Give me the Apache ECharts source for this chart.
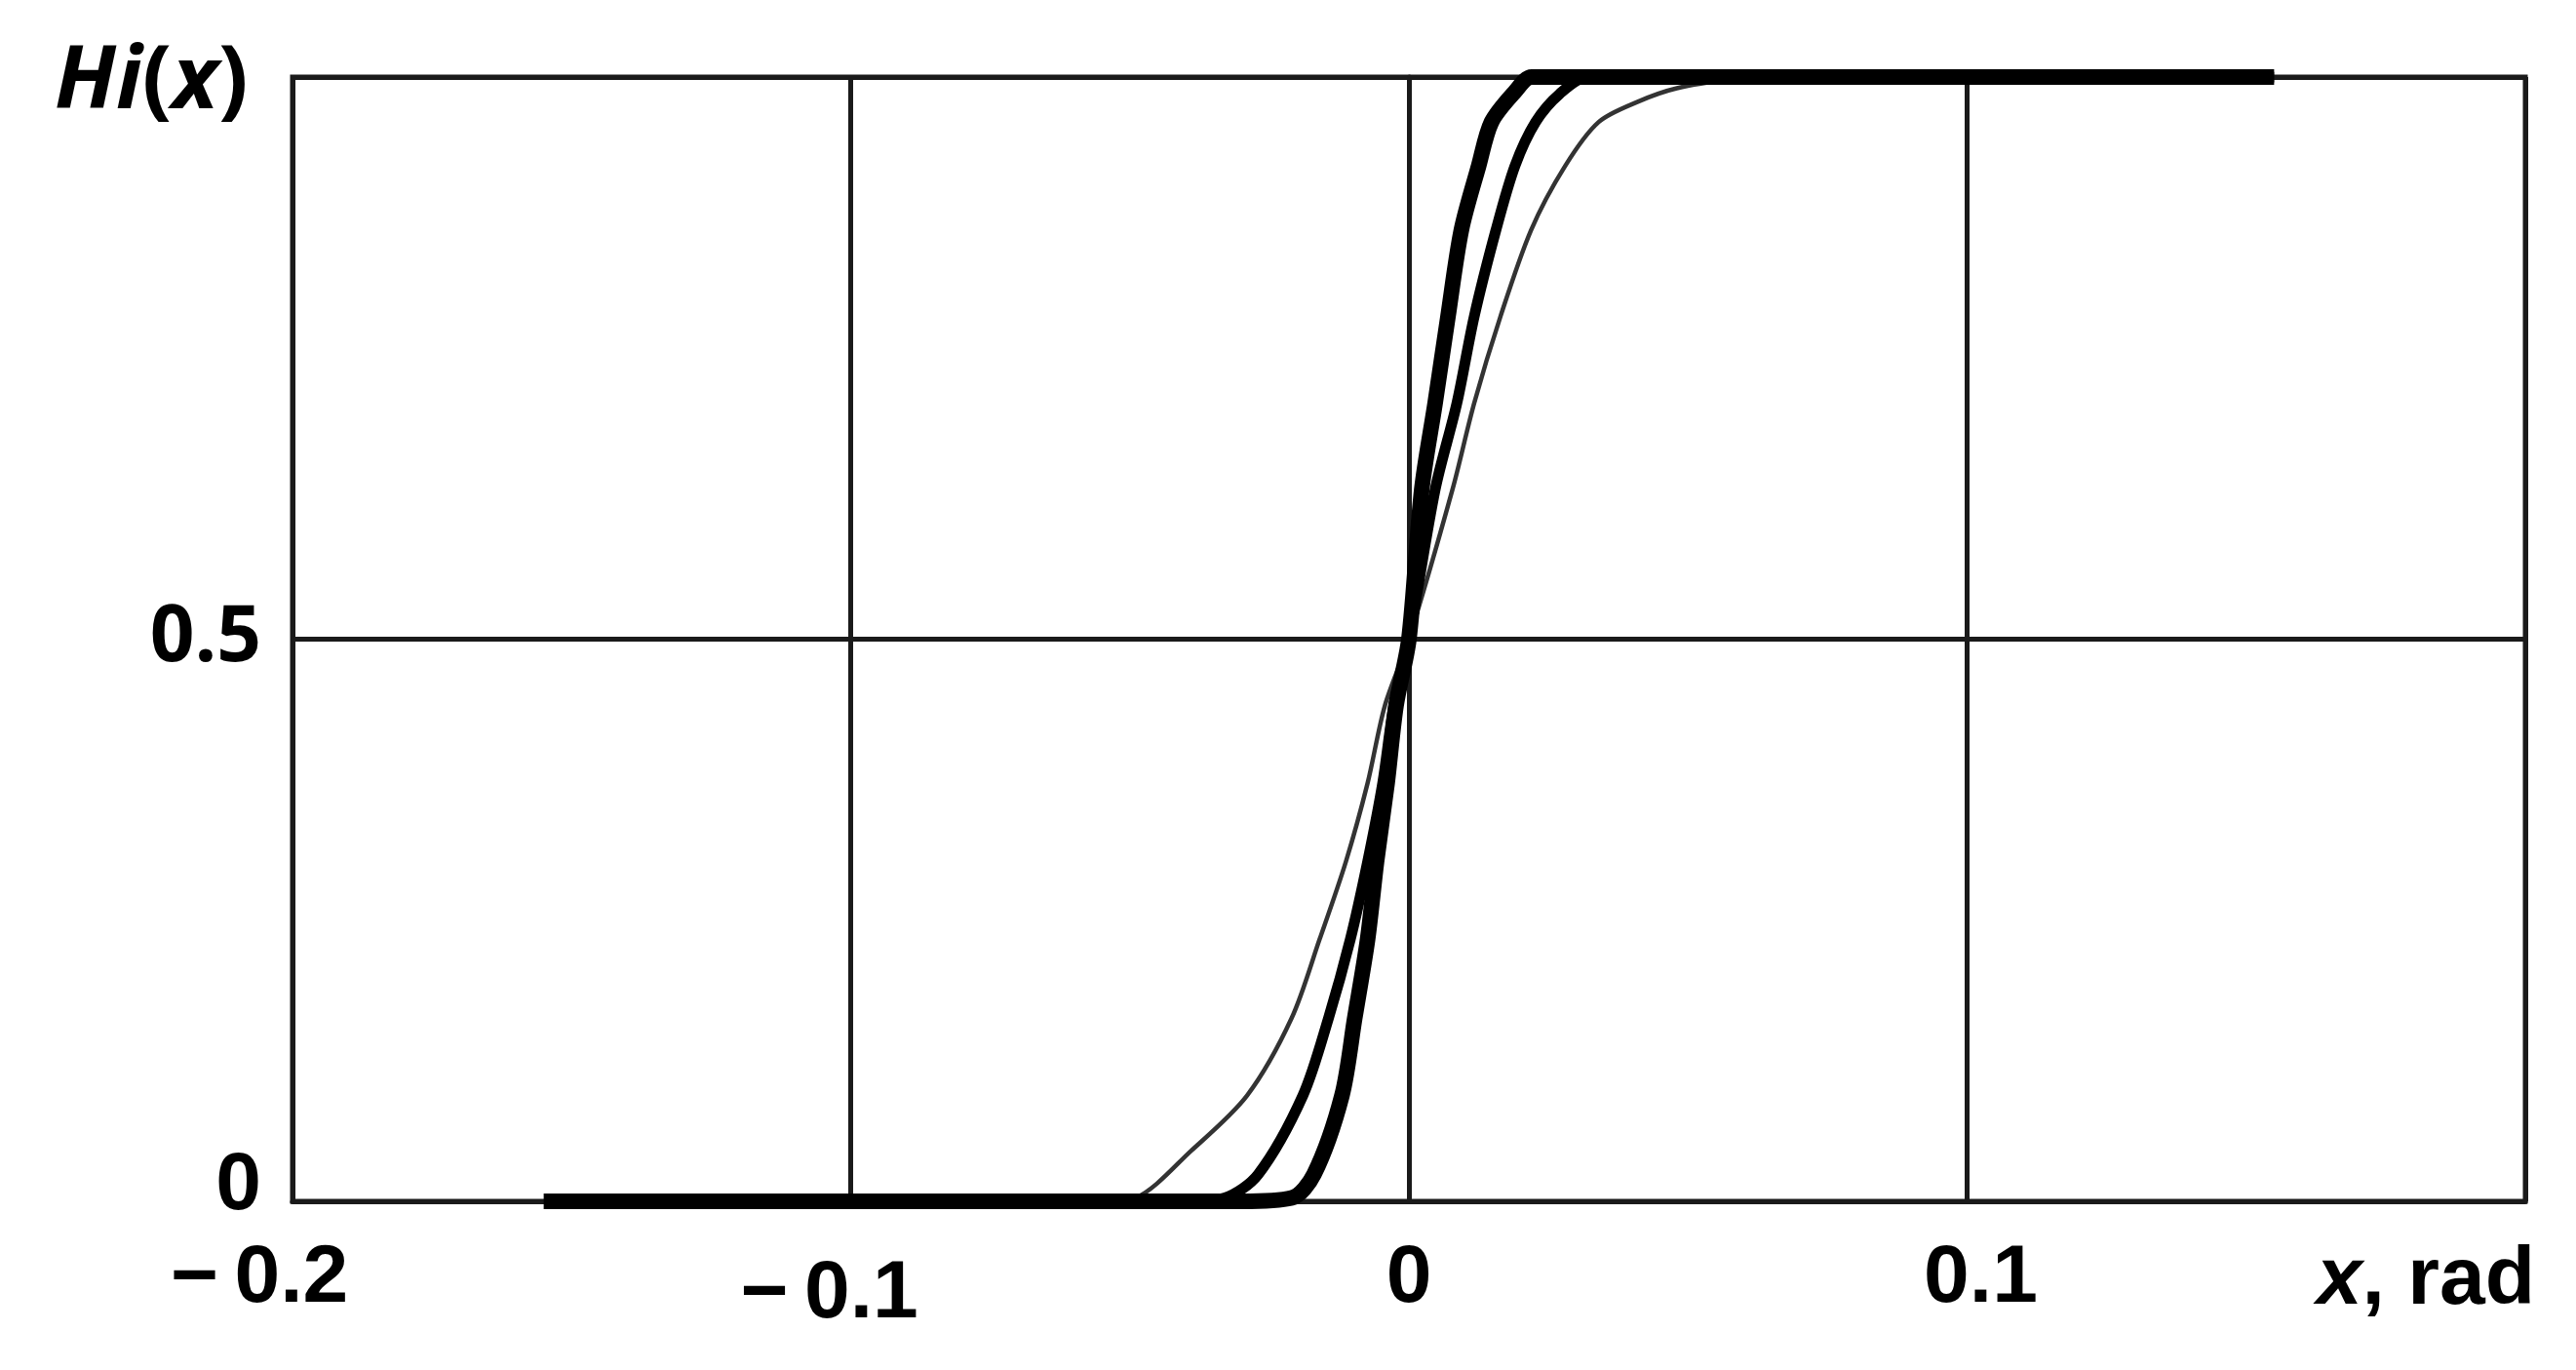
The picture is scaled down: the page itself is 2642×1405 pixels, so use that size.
<!DOCTYPE html>
<html>
<head>
<meta charset="utf-8">
<title>Hi(x)</title>
<script src="https://cdn.jsdelivr.net/npm/echarts@6/dist/echarts.min.js"></script>
<style>
  html, body { margin: 0; padding: 0; background: #fff; }
  #chart { width: 2642px; height: 1405px; }
</style>
</head>
<body>
<div id="chart"></div>
<script>
// x axis: -0.2 .. 0.2 rad, y axis: 0 .. 1
const xTicks = [-0.2, -0.1, 0, 0.1, 0.2]
const yTicks = [0, 0.5, 1]

// thick curve (steepest)
const thickX = [-0.155, -0.09, -0.03, -0.021, -0.017, -0.012, -0.0097, -0.0074, -0.0058, -0.0039, -0.0023, 0, 0.0023, 0.0047, 0.007, 0.0094, 0.0125, 0.0148, 0.019, 0.022, 0.06, 0.155]
const thickY = [0, 0, 0, 0.003, 0.024, 0.094, 0.163, 0.233, 0.302, 0.372, 0.441, 0.5, 0.633, 0.71, 0.787, 0.864, 0.921, 0.96, 0.987, 1, 1, 1]

// medium curve
const mediumX = [-0.093, -0.04, -0.033, -0.027, -0.019, -0.0144, -0.0105, -0.0074, -0.0047, -0.0027, 0, 0.0047, 0.0086, 0.0117, 0.0156, 0.019, 0.0227, 0.027, 0.032, 0.06, 0.155]
const mediumY = [0, 0, 0.003, 0.024, 0.094, 0.163, 0.233, 0.302, 0.372, 0.441, 0.5, 0.633, 0.71, 0.787, 0.864, 0.921, 0.96, 0.985, 1, 1, 1]

// thin curve (widest transition)
const thinX = [-0.093, -0.055, -0.049, -0.039, -0.029, -0.021, -0.016, -0.0113, -0.0074, -0.0043, 0, 0.0078, 0.0117, 0.0164, 0.0219, 0.028, 0.034, 0.041, 0.048, 0.058, 0.065, 0.155]
const thinY = [0, 0, 0.003, 0.045, 0.094, 0.163, 0.233, 0.302, 0.372, 0.441, 0.5, 0.633, 0.71, 0.787, 0.864, 0.921, 0.96, 0.978, 0.99, 0.998, 1, 1]

const toPairs = (xs, ys) => xs.map((x, i) => [x, ys[i]])

// tick labels sit a bit off their gridlines in the original scan
const formatX = (v) => {
  if (Math.abs(v) < 1e-9) return '0'
  if (v > 0.15) return ''
  if (v < -0.15) return '{a|\u2212\u2009' + Math.abs(v).toFixed(1) + '}'
  if (v < 0) return '{b|\u2212\u2009' + Math.abs(v).toFixed(1) + '}'
  return '{c|' + v.toFixed(1) + '}'
}

const formatY = (v) => {
  if (v === 0) return '{z|0}'
  if (v === 0.5) return '0.5'
  return ''
}

const chart = echarts.init(document.getElementById('chart'))

const lineColor = '#1a1a1a'
const gridWidth = 5
const tickFont = '"Liberation Sans", Arial, sans-serif'
const labelFont = '"Open Sans", "Noto Sans", sans-serif'
const tickStyle = { fontFamily: tickFont, fontWeight: 'bold', fontSize: 84, color: '#000' }

const makeSeries = (name, data, width, color) => ({
  name: name,
  type: 'line',
  data: data,
  showSymbol: false,
  smooth: 0.3,
  lineStyle: { color: color, width: width, cap: 'butt', join: 'round' },
  z: 3
})

const option = {
  animation: false,
  backgroundColor: '#ffffff',
  title: {
    text: '{i|Hi}({i|x})',
    left: 56,
    top: 40,
    padding: 0,
    textStyle: {
      fontFamily: labelFont,
      fontWeight: 'bold',
      fontSize: 90,
      color: '#000',
      rich: {
        i: { fontFamily: labelFont, fontWeight: 'bold', fontStyle: 'italic', fontSize: 90, color: '#000' }
      }
    }
  },
  grid: {
    left: 300,
    right: 52,
    top: 79,
    bottom: 173,
    show: true,
    borderColor: lineColor,
    borderWidth: gridWidth,
    backgroundColor: 'transparent'
  },
  xAxis: {
    type: 'value',
    min: xTicks[0],
    max: xTicks[xTicks.length - 1],
    interval: 0.1,
    name: '{i|x}, rad',
    nameLocation: 'end',
    nameGap: 10,
    nameTextStyle: {
      align: 'right',
      verticalAlign: 'top',
      padding: [40, 0, 0, 0],
      fontFamily: tickFont,
      fontWeight: 'bold',
      fontSize: 84,
      color: '#000',
      rich: {
        i: { fontFamily: tickFont, fontWeight: 'bold', fontStyle: 'italic', fontSize: 84, color: '#000' }
      }
    },
    axisLine: { show: true, lineStyle: { color: lineColor, width: gridWidth } },
    axisTick: { show: false },
    axisLabel: {
      formatter: formatX,
      margin: 38,
      ...tickStyle,
      rich: {
        a: { ...tickStyle, padding: [0, 68, 0, 0] },
        b: { ...tickStyle, padding: [16, 44, 0, 0] },
        c: { ...tickStyle, padding: [0, 0, 0, 28] }
      }
    },
    splitLine: { show: true, lineStyle: { color: lineColor, width: gridWidth } }
  },
  yAxis: {
    type: 'value',
    min: yTicks[0],
    max: yTicks[yTicks.length - 1],
    interval: 0.5,
    axisLine: { show: true, lineStyle: { color: lineColor, width: gridWidth } },
    axisTick: { show: false },
    axisLabel: {
      formatter: formatY,
      margin: 32,
      fontFamily: labelFont,
      fontWeight: 'bold',
      fontSize: 80,
      color: '#000',
      rich: {
        z: { ...tickStyle, padding: [0, 0, 30, 0] }
      }
    },
    splitLine: { show: true, lineStyle: { color: lineColor, width: gridWidth } }
  },
  series: [
    makeSeries('thin', toPairs(thinX, thinY), 4.5, '#333333'),
    makeSeries('medium', toPairs(mediumX, mediumY), 11, '#000000'),
    makeSeries('thick', toPairs(thickX, thickY), 16, '#000000')
  ]
}

chart.setOption(option)

window.addEventListener('resize', () => chart.resize())
</script>
</body>
</html>
